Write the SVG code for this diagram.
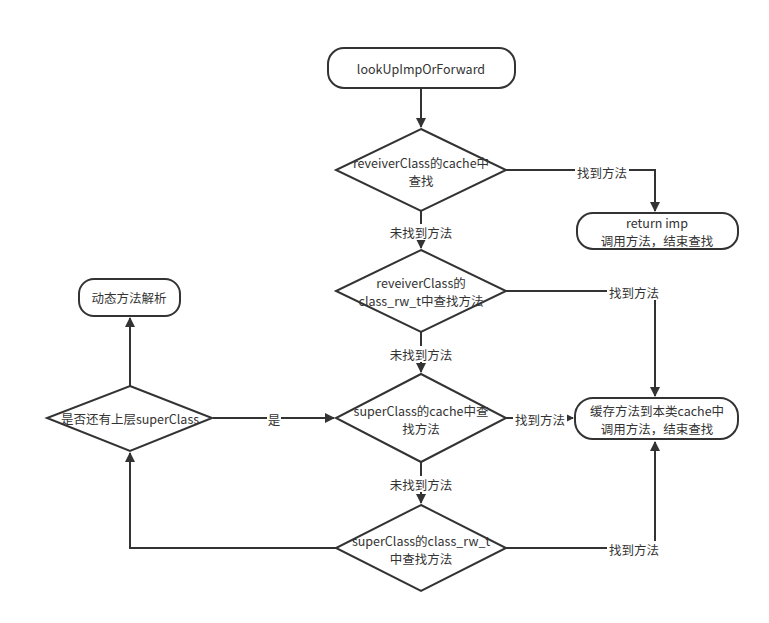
<svg xmlns="http://www.w3.org/2000/svg" width="769" height="623" viewBox="0 0 769 623">
<style>
.s{fill:#fff;stroke:#333;stroke-width:2}
.t{font-family:"Noto Sans CJK SC","Noto Sans",sans-serif;font-size:12.5px;fill:#333;text-anchor:middle;dominant-baseline:central}
.e{fill:none;stroke:#333;stroke-width:2}
.lb{fill:#fff}
</style>
<defs>
<marker id="a" viewBox="0 0 10 10" refX="9" refY="5" markerWidth="5.5" markerHeight="5" orient="auto" markerUnits="strokeWidth">
<path d="M0,0 L10,5 L0,10 z" fill="#333"/>
</marker>
</defs>
<rect width="769" height="623" fill="#fff"/>
<g id="connectors">
<path class="e" d="M421,88 V127" marker-end="url(#a)"/>
<path class="e" d="M506,170 H655 V211" marker-end="url(#a)"/>
<path class="e" d="M421,211 V248" marker-end="url(#a)"/>
<path class="e" d="M506,291 H655 V396" marker-end="url(#a)"/>
<path class="e" d="M421,332 V372" marker-end="url(#a)"/>
<path class="e" d="M506,418 H573" marker-end="url(#a)"/>
<path class="e" d="M421,462 V503" marker-end="url(#a)"/>
<path class="e" d="M506,548 H655 V442" marker-end="url(#a)"/>
<path class="e" d="M336,548 H130 V453" marker-end="url(#a)"/>
<path class="e" d="M130,386 V318" marker-end="url(#a)"/>
<path class="e" d="M213,418 H334" marker-end="url(#a)"/>
<rect class="lb" x="575" y="164" width="54" height="16"/>
<text class="t" x="602" y="172">找到方法</text>
<rect class="lb" x="388" y="224" width="66" height="16"/>
<text class="t" x="421" y="232">未找到方法</text>
<rect class="lb" x="607" y="284" width="54" height="16"/>
<text class="t" x="634" y="292">找到方法</text>
<rect class="lb" x="388" y="346" width="66" height="16"/>
<text class="t" x="421" y="354">未找到方法</text>
<rect class="lb" x="513" y="411" width="54" height="16"/>
<text class="t" x="540" y="419">找到方法</text>
<rect class="lb" x="388" y="476" width="66" height="16"/>
<text class="t" x="421" y="484">未找到方法</text>
<rect class="lb" x="607" y="541" width="54" height="16"/>
<text class="t" x="634" y="549">找到方法</text>
<rect class="lb" x="267" y="411" width="14" height="16"/>
<text class="t" x="274" y="419">是</text>
</g>
<g id="start">
<rect class="s" x="328" y="48" width="187" height="40" rx="16"/>
<text class="t" x="421" y="68">lookUpImpOrForward</text>
</g>
<g id="d1">
<polygon class="s" points="421,129 506,170 421,211 336,170"/>
<text class="t"><tspan x="421" y="162">reveiverClass的cache中</tspan><tspan x="421" y="180">查找</tspan></text>
</g>
<g id="ret">
<rect class="s" x="577" y="213" width="161" height="36" rx="16"/>
<text class="t"><tspan x="657" y="222">return imp</tspan><tspan x="657" y="240">调用方法，结束查找</tspan></text>
</g>
<g id="d2">
<polygon class="s" points="421,250 506,291 421,332 336,291"/>
<text class="t"><tspan x="421" y="282">reveiverClass的</tspan><tspan x="421" y="300">class_rw_t中查找方法</tspan></text>
</g>
<g id="d3">
<polygon class="s" points="421,374 506,418 421,462 336,418"/>
<text class="t"><tspan x="421" y="410">superClass的cache中查</tspan><tspan x="421" y="428">找方法</tspan></text>
</g>
<g id="cache">
<rect class="s" x="575" y="398" width="163" height="41" rx="18"/>
<text class="t"><tspan x="657" y="410">缓存方法到本类cache中</tspan><tspan x="657" y="428">调用方法，结束查找</tspan></text>
</g>
<g id="d4">
<polygon class="s" points="421,505 506,548 421,591 336,548"/>
<text class="t"><tspan x="421" y="540">superClass的class_rw_t</tspan><tspan x="421" y="558">中查找方法</tspan></text>
</g>
<g id="d5">
<polygon class="s" points="130,386 212,418 130,451 47,418"/>
<text class="t" x="130" y="418">是否还有上层superClass</text>
</g>
<g id="dyn">
<rect class="s" x="79" y="279" width="101" height="37" rx="15"/>
<text class="t" x="129" y="297">动态方法解析</text>
</g>
</svg>
